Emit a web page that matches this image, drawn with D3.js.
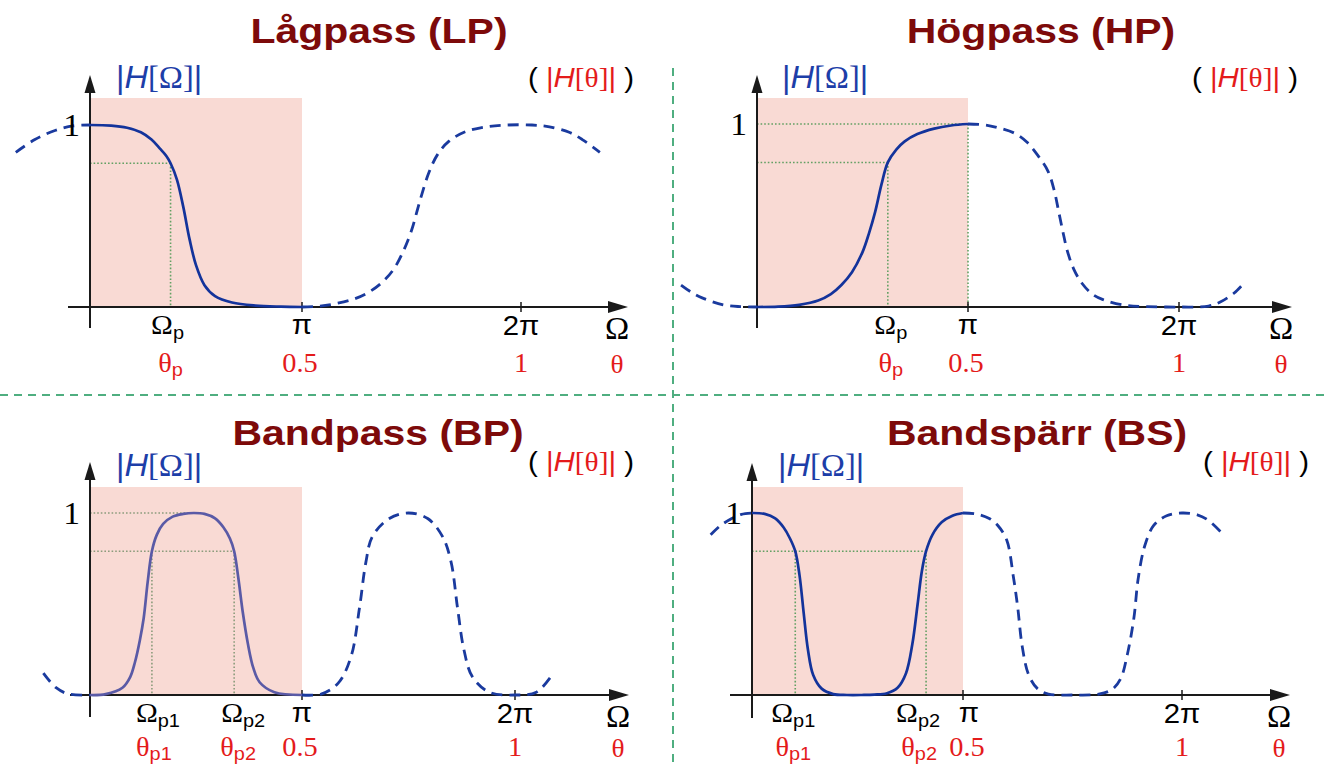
<!DOCTYPE html>
<html>
<head>
<meta charset="utf-8">
<script src="https://cdn.jsdelivr.net/npm/d3@7"></script>
<style>
  html, body { margin: 0; padding: 0; background: #fff; }
  svg { display: block; }
</style>
</head>
<body>
<svg id="chart" width="1324" height="767"></svg>
<script>
// ---- Data: frequency in units of π, magnitude |H| ----
const filterTitles = ["Lågpass (LP)", "Högpass (HP)", "Bandpass (BP)", "Bandspärr (BS)"];
const omegaTicks = ["π", "2π"];
const thetaTicks = ["0.5", "1"];
const edgeLevel = 0.79;

// Low-pass
const lpPass  = [[0,1],[0.1,0.997],[0.175,0.985],[0.24,0.96],[0.29,0.92],[0.33,0.87],[0.36,0.83],[0.38,0.79],[0.41,0.70],[0.44,0.55],[0.47,0.37],[0.50,0.23],[0.54,0.12],[0.59,0.06],[0.67,0.025],[0.78,0.008],[0.9,0.002],[1,0]];
const lpLeft  = [[-0.35,0.85],[-0.26,0.92],[-0.165,0.97],[-0.08,0.995],[0,1]];
const lpRight = [[1,0],[1.08,0.005],[1.16,0.02],[1.24,0.045],[1.31,0.085],[1.37,0.14],[1.42,0.21],[1.46,0.30],[1.50,0.42],[1.54,0.59],[1.58,0.74],[1.62,0.84],[1.67,0.91],[1.74,0.96],[1.84,0.99],[1.94,1],[2.05,1],[2.13,0.99],[2.22,0.96],[2.28,0.92],[2.36,0.85]];
const lpEdges = [0.38];
const lpEdgeNames = ["p"];

// High-pass
const hpPass  = [[0,0],[0.1,0.002],[0.2,0.012],[0.29,0.035],[0.35,0.07],[0.40,0.12],[0.45,0.19],[0.50,0.30],[0.53,0.40],[0.56,0.52],[0.59,0.67],[0.62,0.79],[0.66,0.86],[0.70,0.905],[0.76,0.945],[0.84,0.975],[0.92,0.992],[1,1]];
const hpLeft  = [[-0.36,0.12],[-0.31,0.08],[-0.26,0.05],[-0.16,0.012],[-0.08,0.002],[0,0]];
const hpRight = [[1,1],[1.08,0.995],[1.14,0.98],[1.22,0.95],[1.28,0.90],[1.33,0.83],[1.38,0.74],[1.41,0.63],[1.43,0.52],[1.45,0.41],[1.47,0.31],[1.50,0.21],[1.54,0.13],[1.59,0.07],[1.64,0.04],[1.74,0.01],[1.85,0.002],[2,0],[2.14,0.005],[2.2,0.03],[2.26,0.075],[2.30,0.12]];
const hpEdges = [0.62];
const hpEdgeNames = ["p"];

// Band-pass
const bpPass  = [[0,0],[0.074,0.005],[0.153,0.04],[0.19,0.10],[0.212,0.18],[0.235,0.30],[0.253,0.42],[0.272,0.62],[0.292,0.79],[0.315,0.88],[0.345,0.94],[0.39,0.98],[0.44,0.995],[0.49,1],[0.54,0.995],[0.59,0.97],[0.63,0.92],[0.66,0.86],[0.68,0.79],[0.70,0.64],[0.72,0.46],[0.745,0.28],[0.77,0.15],[0.80,0.07],[0.87,0.015],[1,0]];
const bpLeft  = [[-0.22,0.12],[-0.16,0.04],[-0.10,0.005],[0,0]];
const bpRight = [[1,0],[1.09,0.005],[1.17,0.065],[1.23,0.21],[1.27,0.48],[1.30,0.73],[1.33,0.87],[1.41,0.97],[1.50,1],[1.59,0.97],[1.66,0.87],[1.70,0.73],[1.73,0.48],[1.76,0.25],[1.80,0.10],[1.88,0.015],[2,0],[2.10,0.015],[2.18,0.12]];
const bpEdges = [0.292, 0.68];
const bpEdgeNames = ["p1", "p2"];
const bpPeak = 0.49;

// Band-stop
const bsPass  = [[0,1],[0.06,0.995],[0.11,0.97],[0.15,0.92],[0.18,0.86],[0.205,0.79],[0.225,0.66],[0.245,0.45],[0.265,0.25],[0.29,0.11],[0.33,0.035],[0.385,0.005],[0.45,0],[0.52,0],[0.58,0.002],[0.64,0.01],[0.69,0.04],[0.73,0.12],[0.76,0.28],[0.785,0.50],[0.805,0.68],[0.825,0.79],[0.855,0.88],[0.90,0.95],[0.95,0.985],[1,1]];
const bsLeft  = [[-0.196,0.88],[-0.15,0.93],[-0.096,0.97],[-0.05,0.993],[0,1]];
const bsRight = [[1,1],[1.06,0.995],[1.12,0.97],[1.16,0.93],[1.20,0.85],[1.23,0.65],[1.25,0.48],[1.27,0.27],[1.30,0.11],[1.34,0.035],[1.39,0.005],[1.50,0],[1.62,0.005],[1.68,0.03],[1.72,0.09],[1.75,0.22],[1.78,0.42],[1.80,0.64],[1.83,0.82],[1.87,0.93],[1.93,0.985],[2,1],[2.07,0.99],[2.12,0.96],[2.19,0.88]];
const bsEdges = [0.205, 0.825];
const bsEdgeNames = ["p1", "p2"];

// ---- Styling ----
const C = {
  title: "#7d0a0a", blue: "#1d3ea8", solid: "#13339b", bpSolid: "#5a5aa6",
  dashed: "#1a3a9e", red: "#e41b1b", band: "#f9dad4", guide: "#63a063",
  guideBP: "#8c9c7c", sep: "#4fae80", axis: "#1a1a1a"
};
const SANS = "'Liberation Sans', Arial, sans-serif";
const SERIF = "'Liberation Serif', 'Times New Roman', serif";

// ---- Panel layout ----
const panels = [
  { title: filterTitles[0], pass: lpPass, left: lpLeft, right: lpRight, edges: lpEdges, names: lpEdgeNames,
    xr: [90, 302, 521], yr: [307, 125], axisL: 68, axisR: 628, yTop: 75, yBot: 328, bandTop: 98,
    titleX: 379, titleY: 43, hX: 116, hY: 88, thX: 528, thY: 87, solid: C.solid, guide: C.guide,
    oShift: [-3], tShift: [0], piShift: 0, rowT: 65,
    hGuides: [[edgeLevel, 0, lpEdges[0]]], vGuides: [[lpEdges[0], edgeLevel, 0]] },
  { title: filterTitles[1], pass: hpPass, left: hpLeft, right: hpRight, edges: hpEdges, names: hpEdgeNames,
    xr: [757, 968, 1179], yr: [307, 124], axisL: 743, axisR: 1292, yTop: 75, yBot: 328, bandTop: 98,
    titleX: 1041, titleY: 43, hX: 782, hY: 88, thX: 1192, thY: 87, solid: C.solid, guide: C.guide,
    oShift: [3], tShift: [3], piShift: 0, rowT: 65,
    hGuides: [[1, 0, 1], [edgeLevel, 0, hpEdges[0]]], vGuides: [[hpEdges[0], edgeLevel, 0], [1, 1, 0]] },
  { title: filterTitles[2], pass: bpPass, left: bpLeft, right: bpRight, edges: bpEdges, names: bpEdgeNames,
    xr: [90, 302, 515], yr: [695, 513], axisL: 70, axisR: 629, yTop: 462, yBot: 717, bandTop: 487,
    titleX: 378, titleY: 445, hX: 116, hY: 476, thX: 528, thY: 471, solid: C.bpSolid, guide: C.guideBP,
    oShift: [6, 9], tShift: [2, 4], piShift: 0, rowT: 61,
    hGuides: [[1, 0, bpPeak], [edgeLevel, 0, bpEdges[1]]], vGuides: [[bpEdges[0], edgeLevel, 0], [bpEdges[1], edgeLevel, 0]] },
  { title: filterTitles[3], pass: bsPass, left: bsLeft, right: bsRight, edges: bsEdges, names: bsEdgeNames,
    xr: [752, 963, 1182], yr: [695, 513], axisL: 730, axisR: 1290, yTop: 463, yBot: 718, bandTop: 487,
    titleX: 1037, titleY: 445, hX: 778, hY: 476, thX: 1203, thY: 471, solid: C.solid, guide: C.guide,
    oShift: [-2, -8], tShift: [-2, -7], piShift: 6, rowT: 61,
    hGuides: [[edgeLevel, 0, bsEdges[1]]], vGuides: [[bsEdges[0], edgeLevel, 0], [bsEdges[1], edgeLevel, 0]] }
];

const svg = d3.select("#chart");

// Text helper: a <text> made of styled tspans, optionally stretched horizontally
function label(g, x, y, parts, anchor = "start", sx = 1.05) {
  const t = g.append("text")
    .attr("transform", `translate(${x},${y}) scale(${sx},1)`)
    .attr("text-anchor", anchor);
  parts.forEach(p => {
    const s = t.append("tspan").text(p.t)
      .attr("font-family", p.f || SANS)
      .attr("font-size", p.s)
      .attr("fill", p.c || "#000");
    if (p.i) s.attr("font-style", "italic");
    if (p.b) s.attr("font-weight", "bold");
    if (p.dy) s.attr("dy", p.dy);
  });
  return t;
}

// Dividers between the four panels
svg.append("line").attr("x1", 673).attr("x2", 673).attr("y1", 68).attr("y2", 767)
  .attr("stroke", C.sep).attr("stroke-width", 2).attr("stroke-dasharray", "8,6");
svg.append("line").attr("x1", 0).attr("x2", 1324).attr("y1", 395).attr("y2", 395)
  .attr("stroke", C.sep).attr("stroke-width", 2).attr("stroke-dasharray", "8,6");

panels.forEach(P => {
  const g = svg.append("g");
  const x = d3.scaleLinear().domain([0, 1, 2]).range(P.xr);
  const y = d3.scaleLinear().domain([0, 1]).range(P.yr);
  const line = d3.line().x(d => x(d[0])).y(d => y(d[1])).curve(d3.curveCatmullRom.alpha(0.5));

  // Principal band 0..π
  g.append("rect").attr("x", x(0)).attr("y", P.bandTop)
    .attr("width", x(1) - x(0)).attr("height", y(0) - P.bandTop).attr("fill", C.band);

  // Dotted guides to the band edges
  P.hGuides.forEach(([h, a, b]) => g.append("line")
    .attr("x1", x(a)).attr("x2", x(b)).attr("y1", y(h)).attr("y2", y(h))
    .attr("stroke", P.guide).attr("stroke-width", 1.6).attr("stroke-dasharray", "1.6,2"));
  P.vGuides.forEach(([w, a, b]) => g.append("line")
    .attr("x1", x(w)).attr("x2", x(w)).attr("y1", y(a)).attr("y2", y(b))
    .attr("stroke", P.guide).attr("stroke-width", 1.6).attr("stroke-dasharray", "1.6,2"));

  // Axes with arrow heads
  const y0 = y(0), x0 = x(0);
  g.append("line").attr("x1", P.axisL).attr("x2", P.axisR - 16).attr("y1", y0).attr("y2", y0)
    .attr("stroke", C.axis).attr("stroke-width", 2);
  g.append("path").attr("d", `M${P.axisR},${y0} L${P.axisR - 20},${y0 - 6} L${P.axisR - 20},${y0 + 6} Z`).attr("fill", C.axis);
  g.append("line").attr("x1", x0).attr("x2", x0).attr("y1", P.yBot).attr("y2", P.yTop + 14)
    .attr("stroke", C.axis).attr("stroke-width", 2);
  g.append("path").attr("d", `M${x0},${P.yTop} L${x0 - 5.5},${P.yTop + 18} L${x0 + 5.5},${P.yTop + 18} Z`).attr("fill", C.axis);
  [1, 2].forEach(v => g.append("line").attr("x1", x(v)).attr("x2", x(v))
    .attr("y1", y0 - 5).attr("y2", y0 + 5).attr("stroke", C.axis).attr("stroke-width", 1.5));

  // Periodic extension (dashed) and principal response (solid)
  [P.left, P.right].forEach(seg => g.append("path").attr("d", line(seg))
    .attr("fill", "none").attr("stroke", C.dashed).attr("stroke-width", 2.8).attr("stroke-dasharray", "11,7"));
  g.append("path").attr("d", line(P.pass))
    .attr("fill", "none").attr("stroke", P.solid).attr("stroke-width", 2.7);

  // Titles and axis captions
  label(g, P.titleX, P.titleY, [{ t: P.title, s: 35, b: true, c: C.title }], "middle", 1.17);
  label(g, P.hX, P.hY, [
    { t: "|", s: 31, c: C.blue }, { t: "H", s: 31, i: true, c: C.blue },
    { t: "[Ω]", s: 31, f: SERIF, c: C.blue }, { t: "|", s: 31, c: C.blue }]);
  label(g, P.thX, P.thY, [
    { t: "( ", s: 28 }, { t: "|", s: 28, c: C.red }, { t: "H", s: 28, i: true, c: C.red },
    { t: "[θ]", s: 28, f: SERIF, c: C.red }, { t: "|", s: 28, c: C.red }, { t: " )", s: 28 }]);

  // y tick "1"
  label(g, x0 - 10, y(1) + 11, [{ t: "1", s: 32, f: SERIF }], "end");

  // Frequency tick labels (Ω row in black, θ row in red)
  const rowO = y0 + 27, rowT = y0 + P.rowT;
  P.edges.forEach((e, i) => {
    label(g, x(e) + P.oShift[i], rowO, [{ t: "Ω", s: 28, f: SERIF }, { t: P.names[i], s: 19, dy: 5 }], "middle");
    label(g, x(e) + P.tShift[i], rowT, [{ t: "θ", s: 27, f: SERIF, c: C.red }, { t: P.names[i], s: 19, dy: 4, c: C.red }], "middle");
  });
  omegaTicks.forEach((t, i) => label(g, x(i + 1) + (i ? 0 : P.piShift), rowO + (i ? 1 : 0), [{ t, s: 28 }], "middle"));
  thetaTicks.forEach((t, i) => label(g, x(i + 1) + (i ? 0 : P.piShift - 2), rowT, [{ t, s: 27, f: SERIF, c: C.red }], "middle"));
  label(g, P.axisR - 11, y0 + 32, [{ t: "Ω", s: 31, f: SERIF }], "middle");
  label(g, P.axisR - 11, rowT + 1, [{ t: "θ", s: 26, f: SERIF, c: C.red }], "middle");
});
</script>
</body>
</html>
